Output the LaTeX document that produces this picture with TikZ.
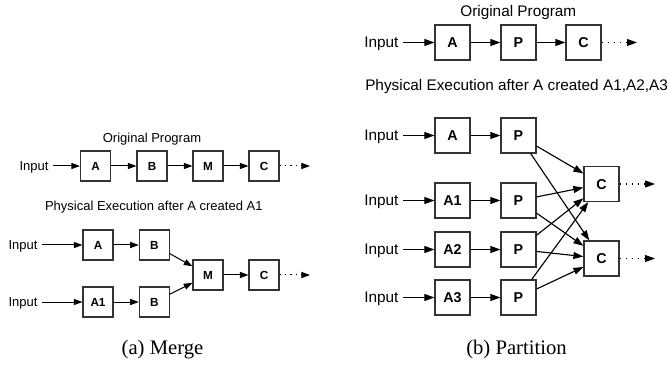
\documentclass[tikz,border=0pt]{standalone}
\usepackage{fontspec}
\setmainfont{Liberation Serif}
\setsansfont{Liberation Sans}
\usetikzlibrary{arrows.meta}

\begin{document}
\begin{tikzpicture}[x=0.75pt,y=-0.75pt,
  box/.style={draw=black!80, line width=0.8pt, minimum size=22.5pt, inner sep=0pt,
    font=\sffamily\bfseries\fontsize{8.8}{10}\selectfont, text height=6.3pt, text depth=0pt},
  bigbox/.style={box, minimum size=26.25pt, line width=0.9pt,
    font=\sffamily\bfseries\fontsize{10.7}{12}\selectfont, text height=7.7pt},
  lbl/.style={inner sep=0pt, text height=7pt, text depth=0pt,
    font=\sffamily\fontsize{9.75}{11}\selectfont},
  biglbl/.style={lbl, text height=8.2pt, font=\sffamily\fontsize{11.5}{13}\selectfont},
  inp/.style={outer sep=3.5pt},
  flow/.style={line width=0.75pt, -{Triangle[length=6.5pt,width=4.6pt]}},
  bigflow/.style={line width=0.85pt, -{Triangle[length=7.5pt,width=5.2pt]}},
  more/.style={flow, dash pattern=on 0.9pt off 3.2pt},
  bigmore/.style={bigflow, dash pattern=on 1pt off 3.6pt},
  caption/.style={anchor=base, inner sep=0pt, font=\rmfamily\fontsize{15.5}{18}\selectfont}
]
\useasboundingbox (0,0) rectangle (668,367);

% ---------- (a) Merge ----------
\node[lbl] (ma-title) at (152,138) {Original Program};
\node[lbl,inp] (ma-in) at (34,166) {Input};
\node[box] (ma-a) at (95.5,166) {A};
\node[box] (ma-b) at (152,166) {B};
\node[box] (ma-m) at (208,166) {M};
\node[box] (ma-c) at (264,166) {C};
\coordinate (ma-end) at (310,166);
\draw[flow] (ma-in) -- (ma-a);
\draw[flow] (ma-a) -- (ma-b);
\draw[flow] (ma-b) -- (ma-m);
\draw[flow] (ma-m) -- (ma-c);
\draw[more] (ma-c) -- (ma-end);

\node[lbl] (mp-title) at (153.8,206) {Physical Execution after A created A1};
\node[lbl,inp] (mp-in1) at (23,245) {Input};
\node[box] (mp-a) at (98,245) {A};
\node[box] (mp-b1) at (154.3,245) {B};
\node[lbl,inp] (mp-in2) at (23,302) {Input};
\node[box] (mp-a1) at (98,302) {A1};
\node[box] (mp-b2) at (154.3,302) {B};
\node[box] (mp-m) at (208,275) {M};
\node[box] (mp-c) at (264,275) {C};
\coordinate (mp-end) at (310,275);
\draw[flow] (mp-in1) -- (mp-a);
\draw[flow] (mp-a) -- (mp-b1);
\draw[flow] (mp-in2) -- (mp-a1);
\draw[flow] (mp-a1) -- (mp-b2);
\draw[flow] (mp-b1) -- (mp-m);
\draw[flow] (mp-b2) -- (mp-m);
\draw[flow] (mp-m) -- (mp-c);
\draw[more] (mp-c) -- (mp-end);

\node[caption] (cap-a) at (162.5,354.3) {(a) Merge};

% ---------- (b) Partition ----------
\node[biglbl] (pa-title) at (518.3,11.2) {Original Program};
\node[biglbl,inp] (pa-in) at (381.3,42.5) {Input};
\node[bigbox] (pa-a) at (452.5,42.5) {A};
\node[bigbox] (pa-p) at (518.5,42.5) {P};
\node[bigbox] (pa-c) at (583.5,42.5) {C};
\coordinate (pa-end) at (637,42.5);
\draw[bigflow] (pa-in) -- (pa-a);
\draw[bigflow] (pa-a) -- (pa-p);
\draw[bigflow] (pa-p) -- (pa-c);
\draw[bigmore] (pa-c) -- (pa-end);

\node[biglbl, anchor=west] (pp-title) at (365,85.5) {Physical Execution after A created A1,A2,A3};
\foreach \n/\lab/\y in {0/A/135.5, 1/A1/200.5, 2/A2/249.5, 3/A3/297.5}{
  \node[biglbl,inp] (pp-in\n) at (381.3,\y) {Input};
  \node[bigbox] (pp-a\n) at (452.5,\y) {\lab};
  \node[bigbox] (pp-p\n) at (518.5,\y) {P};
  \draw[bigflow] (pp-in\n) -- (pp-a\n);
  \draw[bigflow] (pp-a\n) -- (pp-p\n);
}
\node[bigbox] (pp-c1) at (601.5,184) {C};
\node[bigbox] (pp-c2) at (601.5,258.5) {C};
\coordinate (pp-end1) at (655,184);
\coordinate (pp-end2) at (655,258.5);
\foreach \n in {0,1,2,3}{
  \draw[bigflow] (pp-p\n) -- (pp-c1);
  \draw[bigflow] (pp-p\n) -- (pp-c2);
}
\draw[bigmore] (pp-c1) -- (pp-end1);
\draw[bigmore] (pp-c2) -- (pp-end2);

\node[caption] (cap-b) at (516.5,354.3) {(b) Partition};
\end{tikzpicture}
\end{document}
